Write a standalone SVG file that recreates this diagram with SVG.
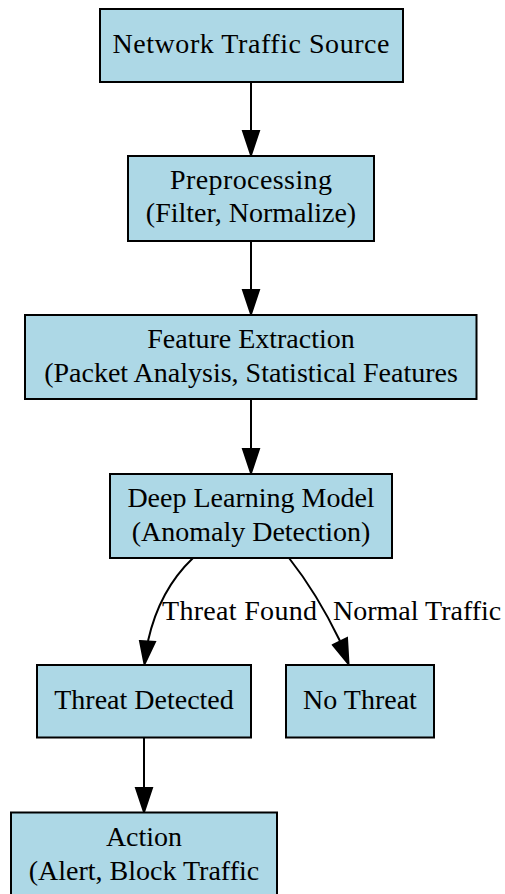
<svg xmlns="http://www.w3.org/2000/svg" width="505" height="894" viewBox="0 0 505 894">
<style>
.n{fill:#add8e6;stroke:#000;stroke-width:2}
.t{font-family:"Liberation Serif","Times New Roman",serif;font-size:28px;fill:#000;text-anchor:middle}
.l{font-family:"Liberation Serif","Times New Roman",serif;font-size:28px;fill:#000}
.e{fill:none;stroke:#000;stroke-width:2}
.h{fill:#000;stroke:#000;stroke-width:2}
</style>
<rect width="505" height="894" fill="#fff"/>
<g id="edges">
<path class="e" d="M251,82 L251,131"/>
<polygon class="h" points="243,131 259,131 251,155"/>
<path class="e" d="M251,241 L251,290"/>
<polygon class="h" points="243,290 259,290 251,314"/>
<path class="e" d="M251,399 L251,449"/>
<polygon class="h" points="243,449 259,449 251,473"/>
<path class="e" d="M193,558 C172,578 156,605 148,641"/>
<polygon class="h" points="140,641 155,642 144.5,664"/>
<text class="l" x="162" y="620" textLength="155" lengthAdjust="spacing">Threat Found</text>
<path class="e" d="M289,558 C308,582 324,608 340,641"/>
<polygon class="h" points="333,645 347,638 348.5,664"/>
<text class="l" x="333" y="620">Normal Traffic</text>
<path class="e" d="M144,738 L144,788"/>
<polygon class="h" points="136,788 152,788 144,812"/>
</g>
<g id="source">
<rect class="n" x="100" y="9" width="303" height="73"/>
<text class="t" x="251" y="53" textLength="277" lengthAdjust="spacing">Network Traffic Source</text>
</g>
<g id="preprocessing">
<rect class="n" x="128" y="156" width="246" height="85"/>
<text class="t" x="251" y="189" textLength="162" lengthAdjust="spacing">Preprocessing</text>
<text class="t" x="251" y="222">(Filter, Normalize)</text>
</g>
<g id="features">
<rect class="n" x="25" y="315" width="451.5" height="84"/>
<text class="t" x="251" y="348">Feature Extraction</text>
<text class="t" x="251" y="382">(Packet Analysis, Statistical Features</text>
</g>
<g id="model">
<rect class="n" x="110" y="474" width="282" height="84"/>
<text class="t" x="251" y="507">Deep Learning Model</text>
<text class="t" x="251" y="541">(Anomaly Detection)</text>
</g>
<g id="threat">
<rect class="n" x="37" y="665" width="214" height="72.5"/>
<text class="t" x="144" y="709">Threat Detected</text>
</g>
<g id="nothreat">
<rect class="n" x="286" y="665" width="148" height="72.5"/>
<text class="t" x="360" y="709">No Threat</text>
</g>
<g id="action">
<rect class="n" x="11" y="812.5" width="266" height="85"/>
<text class="t" x="144" y="846">Action</text>
<text class="t" x="144" y="880">(Alert, Block Traffic</text>
</g>
</svg>
